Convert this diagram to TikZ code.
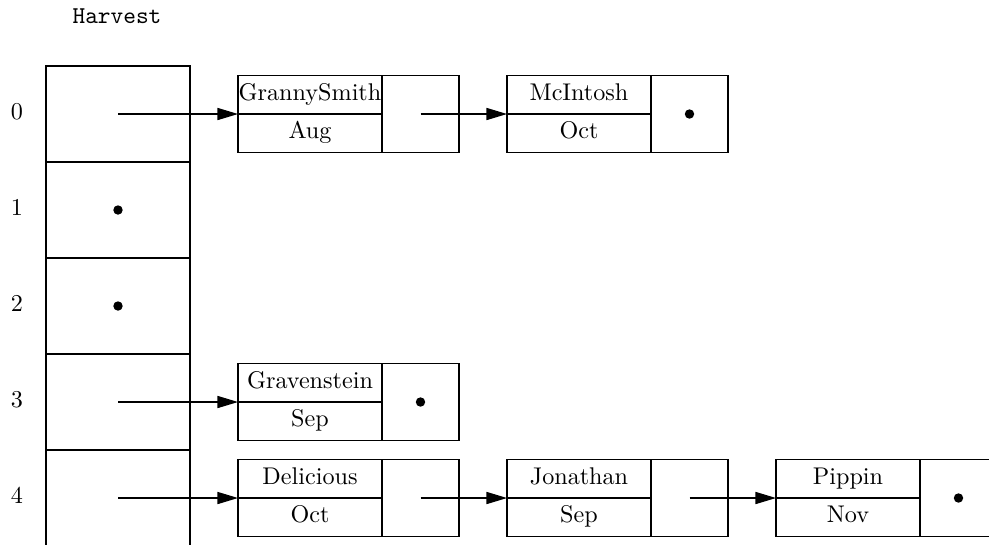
\documentclass[tikz,border=0pt]{standalone}
\usetikzlibrary{arrows.meta}
\begin{document}
\begin{tikzpicture}[x=0.414pt,y=-0.414pt,
  every node/.style={inner sep=0pt, outer sep=0pt},
  cell/.style={draw, line width=0.5pt, minimum width=144*0.414pt, minimum height=96*0.414pt},
  half/.style={draw, line width=0.5pt, minimum width=144*0.414pt, minimum height=38.5*0.414pt, text height=6.5pt, text depth=2pt},
  ptrbox/.style={draw, line width=0.5pt, minimum width=77*0.414pt, minimum height=77*0.414pt},
  link/.style={line width=0.5pt, -{Triangle[length=8.5pt,width=5pt]}},
  idx/.style={anchor=base},
  nil/.style={fill=black}]
\path[use as bounding box, clip] (0,0) rectangle (989,544);

% title
\node[font=\ttfamily, anchor=base] (title) at (117,23) {Harvest};

% array cells
\node[cell] (c0) at (118,114) {};
\node[cell] (c1) at (118,210) {};
\node[cell] (c2) at (118,306) {};
\node[cell] (c3) at (118,402) {};
\node[cell] (c4) at (118,498) {};

% indices
\node[idx] (l0) at (17,119.5) {0};
\node[idx] (l1) at (17,215.5) {1};
\node[idx] (l2) at (17,311.5) {2};
\node[idx] (l3) at (17,407.5) {3};
\node[idx] (l4) at (17,503.5) {4};

% row 0 records
\node[half] (gsn) at (310,94.75) {GrannySmith};
\node[half] (gsd) at (310,133.25) {Aug};
\node[ptrbox] (gsp) at (420.5,114) {};
\node[half] (mcn) at (579,94.75) {McIntosh};
\node[half] (mcd) at (579,133.25) {Oct};
\node[ptrbox] (mcp) at (689.5,114) {};

% row 3 record
\node[half] (grn) at (310,382.75) {Gravenstein};
\node[half] (grd) at (310,421.25) {Sep};
\node[ptrbox] (grp) at (420.5,402) {};

% row 4 records
\node[half] (den) at (310,478.75) {Delicious};
\node[half] (ded) at (310,517.25) {Oct};
\node[ptrbox] (dep) at (420.5,498) {};
\node[half] (jon) at (579,478.75) {Jonathan};
\node[half] (jod) at (579,517.25) {Sep};
\node[ptrbox] (jop) at (689.5,498) {};
\node[half] (pin) at (848,478.75) {Pippin};
\node[half] (pid) at (848,517.25) {Nov};
\node[ptrbox] (pip) at (958.5,498) {};

% null pointers
\fill[nil] (c1.center) circle[radius=1.95pt];
\fill[nil] (c2.center) circle[radius=1.95pt];
\fill[nil] (mcp.center) circle[radius=1.95pt];
\fill[nil] (grp.center) circle[radius=1.95pt];
\fill[nil] (pip.center) circle[radius=1.95pt];

% links
\draw[link] (c0.center) -- (gsn.south west);
\draw[link] (gsp.center) -- (mcn.south west);
\draw[link] (c3.center) -- (grn.south west);
\draw[link] (c4.center) -- (den.south west);
\draw[link] (dep.center) -- (jon.south west);
\draw[link] (jop.center) -- (pin.south west);
\end{tikzpicture}
\end{document}
